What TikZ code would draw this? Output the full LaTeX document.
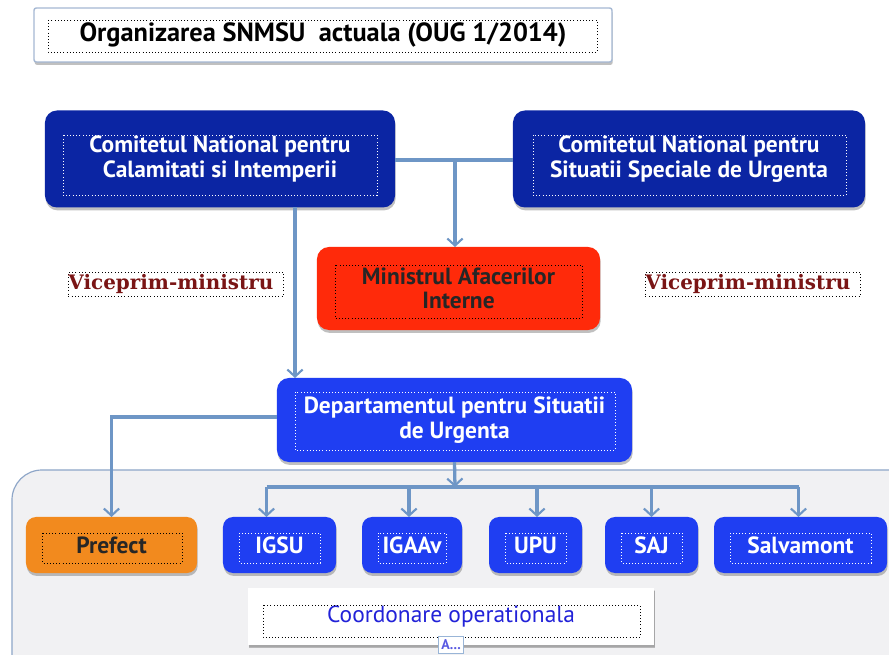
\documentclass[tikz,border=0pt]{standalone}
\usepackage{fontspec}
\setmainfont{PT Sans}
\newfontfamily\viceserif{DejaVu Serif}
\usetikzlibrary{calc,shadows,arrows.meta}
\definecolor{navybox}{HTML}{0B25A3}
\definecolor{bluebox}{HTML}{1F3EF2}
\definecolor{redbox}{HTML}{FF2A0A}
\definecolor{orangebox}{HTML}{F28A1E}
\definecolor{linkblue}{HTML}{6E96C6}
\definecolor{panelgray}{HTML}{F1F1F3}
\definecolor{panelline}{HTML}{8EA6C8}
\definecolor{vicered}{HTML}{7A1515}
\definecolor{coordblue}{HTML}{2222D8}
\newcommand\dotin[6][black]{\draw[dotted,line width=0.7pt,draw=#1] ($(#2.north west)+(#3,#4)$) rectangle ($(#2.south east)+(-#5,-#6)$);}
\begin{document}
\begin{tikzpicture}[x=0.03cm,y=-0.03cm,
  box/.style={rounded corners=0.36cm, inner sep=0pt, outer sep=0pt, align=center,
    font=\bfseries\fontsize{20}{21}\selectfont,
    drop shadow={shadow xshift=0.6pt, shadow yshift=-2.5pt, opacity=0.35, fill=black!70}},
  unit/.style={box, rounded corners=0.3cm, minimum height=1.68cm, fill=bluebox, text=white},
  link/.style={draw=linkblue, line width=2.8pt},
  tip/.style={-{Straight Barb[length=6pt,width=13pt,line width=1.8pt]}},
  vice/.style={draw=black, dotted, line width=0.8pt, inner sep=0pt, anchor=west, minimum height=0.72cm,
    text width=6.45cm, align=left, text=vicered, font=\viceserif\bfseries\fontsize{17}{19}\selectfont}]
\clip (0,0) rectangle (889,655);
\fill[white] (0,0) rectangle (889,655);

\node[box, rounded corners=2pt, fill=white, draw=panelline!80, line width=1.2pt, minimum width=17.34cm, minimum height=1.62cm,
  font=\bfseries\fontsize{22.5}{25}\selectfont] (title) at (323,35) {Organizarea SNMSU\ \ actuala (OUG 1/2014)};
\dotin{title}{14}{12}{15}{10}

\node[box, fill=navybox, text=white, minimum width=10.5cm, minimum height=2.91cm] (cnci) at (220,159)
  {Comitetul National pentru\\Calamitati si Intemperii};
\node[box, fill=navybox, text=white, minimum width=10.56cm, minimum height=2.91cm] (cnssu) at (689,159)
  {Comitetul National pentru\\Situatii Speciale de Urgenta};
\node[box, fill=redbox, text=black!85, minimum width=8.49cm, minimum height=2.49cm] (mai) at (458.5,288.5)
  {Ministrul Afacerilor\\Interne};
\dotin[white]{cnci}{18}{25}{18}{12}
\dotin[white]{cnssu}{20}{25}{19}{12}
\dotin{mai}{18}{18}{18}{12}

\node[vice] (viceL) at (68,284) {Viceprim-ministru};
\node[vice] (viceR) at (645,284) {Viceprim-ministru};

\node[rounded corners=0.9cm, fill=panelgray, draw=panelline, line width=1pt, minimum width=27.54cm, minimum height=6.6cm] (zone) at (471,580) {};

\node[box, fill=bluebox, text=white, minimum width=10.65cm, minimum height=2.52cm] (dsu) at (454.5,420)
  {Departamentul pentru Situatii\\de Urgenta};
\dotin[white]{dsu}{18}{14}{17}{12}

\node[unit, fill=orangebox, text=black!85, minimum width=5.13cm] (prefect) at (111.5,545) {Prefect};
\node[unit, minimum width=3.39cm] (igsu) at (279.5,545) {IGSU};
\node[unit, minimum width=3.0cm] (igaav) at (412,545) {IGAAv};
\node[unit, minimum width=2.79cm] (upu) at (535.5,545) {UPU};
\node[unit, minimum width=2.79cm] (saj) at (651.5,545) {SAJ};
\node[unit, minimum width=5.19cm] (salv) at (800.5,545) {Salvamont};
\dotin{prefect}{16}{16}{15}{10}
\foreach \n in {igsu,igaav,upu,saj,salv}
  \dotin[white]{\n}{16}{16}{16}{10};

\node[box, rounded corners=0pt, fill=white, text=coordblue, font=\fontsize{20}{22}\selectfont, minimum width=12.18cm, minimum height=1.71cm,
  drop shadow={shadow xshift=0.6pt, shadow yshift=-1.5pt, opacity=0.2, fill=black!60}] (coord) at (451,616.5) {Coordonare operationala};
\dotin{coord}{15}{17}{14}{8}
\node[draw=linkblue!70, line width=0.8pt, fill=white, text=coordblue!75, inner xsep=2pt, inner ysep=1pt, minimum height=0.5cm,
  font=\bfseries\fontsize{12}{13}\selectfont] (more) at (451,645) {A...};

\coordinate (j1) at (455,160);
\coordinate (c1) at (295,0);
\coordinate (bus) at (455,487);
\draw[link] (cnci.east |- j1) -- (cnssu.west |- j1);
\draw[link, tip] (j1) -- (j1 |- mai.north);
\draw[link, tip] (c1 |- cnci.south) -- (c1 |- dsu.north);
\draw[link, tip] (dsu.west) ++(0,-3) -| (prefect.north);
\draw[link, tip] (dsu.south) -- (bus);
\draw[link] ($(igsu.north |- bus)+(-13,0)$) -- ($(salv.north |- bus)+(-2,0)$);
\foreach \n/\dx in {igsu/-13, igaav/-3, upu/1.5, saj/0, salv/-2}
  \draw[link, tip] ($(\n.north |- bus)+(\dx,0)$) -- ($(\n.north)+(\dx,0)$);
\end{tikzpicture}
\end{document}
